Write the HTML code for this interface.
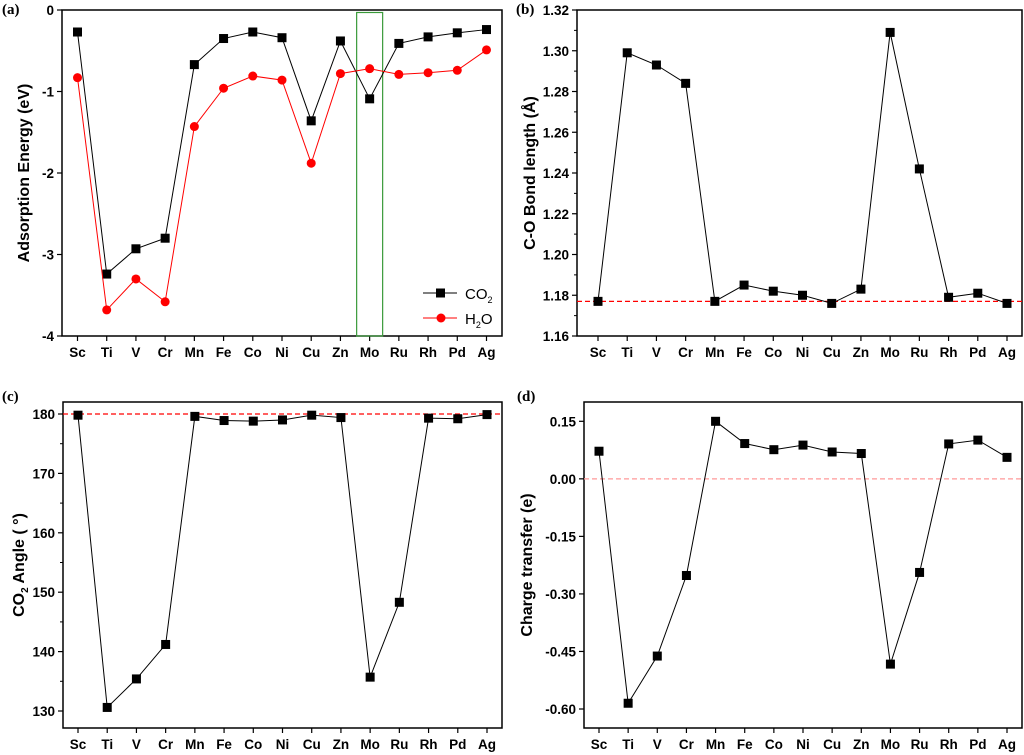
<!DOCTYPE html>
<html><head><meta charset="utf-8"><style>
html,body{margin:0;padding:0;background:#fff;}
svg{display:block;font-family:"Liberation Sans",Arial,sans-serif;}
.tk{font-size:13.5px;font-weight:bold;fill:#000;}
.ttl{font-size:16px;font-weight:bold;fill:#000;}
.pl{font-family:"Liberation Serif",serif;font-size:15px;font-weight:bold;}
</style></head><body>
<svg id="fig" width="1024" height="755" viewBox="0 0 1024 755" xmlns="http://www.w3.org/2000/svg"></svg>
<script>
const categories=["Sc","Ti","V","Cr","Mn","Fe","Co","Ni","Cu","Zn","Mo","Ru","Rh","Pd","Ag"];
const co2Energy=[-0.27,-3.24,-2.93,-2.80,-0.67,-0.35,-0.27,-0.34,-1.36,-0.38,-1.09,-0.41,-0.33,-0.28,-0.24];
const h2oEnergy=[-0.83,-3.68,-3.30,-3.58,-1.43,-0.96,-0.81,-0.86,-1.88,-0.78,-0.72,-0.79,-0.77,-0.74,-0.49];
const bondLength=[1.177,1.299,1.293,1.284,1.177,1.185,1.182,1.180,1.176,1.183,1.309,1.242,1.179,1.181,1.176];
const co2Angle=[179.8,130.6,135.4,141.2,179.6,178.9,178.8,179.0,179.8,179.4,135.7,148.3,179.3,179.2,179.9];
const chargeTransfer=[0.072,-0.585,-0.462,-0.252,0.150,0.092,0.076,0.088,0.070,0.066,-0.483,-0.244,0.091,0.101,0.056];
const ticksA=[0,-1,-2,-3,-4];
const ticksB=[1.16,1.18,1.20,1.22,1.24,1.26,1.28,1.30,1.32];
const ticksC=[130,140,150,160,170,180];
const ticksD=[0.15,0.00,-0.15,-0.30,-0.45,-0.60];

const NS="http://www.w3.org/2000/svg";
const svg=document.getElementById('fig');
function mk(tag,attrs,parent,text){const e=document.createElementNS(NS,tag);for(const k in attrs)e.setAttribute(k,attrs[k]);if(text!==undefined)e.textContent=text;(parent||svg).appendChild(e);return e;}

function panel(o){
  const g=mk('g',{});
  
  
  const y=v=>o.py0+(v-o.v0)/(o.v1-o.v0)*(o.py1-o.py0);
  const x=i=>o.cx0+i*(o.cx1-o.cx0)/(categories.length-1);
  const fr=mk('rect',{x:o.L,y:o.T,width:o.R-o.L,height:o.B-o.T,fill:'none',stroke:'#000','stroke-width':1.5},g);
  
  
  o.ticks.forEach(t=>{
    mk('line',{x1:o.L-5,x2:o.L,y1:y(t),y2:y(t),stroke:'#000','stroke-width':1.2},g);
    const lb=mk('text',{x:o.L-8,y:y(t)+5,'text-anchor':'end',class:'tk'},g,o.fmt(t));
    
    
  });
  if(o.minor){o.minor.forEach(t=>mk('line',{x1:o.L-3,x2:o.L,y1:y(t),y2:y(t),stroke:'#000','stroke-width':1},g));}
  categories.forEach((c,i)=>{
    mk('line',{x1:x(i),x2:x(i),y1:o.B,y2:o.B+5,stroke:'#000','stroke-width':1.2},g);
    const lb=mk('text',{x:x(i),y:o.B+21,'text-anchor':'middle',class:'tk'},g,c);
    
    
  });
  const cy=(o.T+o.B)/2;
  const tt=mk('text',{x:0,y:0,'text-anchor':'middle',class:'ttl',transform:`translate(${o.titleX},${cy}) rotate(-90)`},g);
  tt.innerHTML=o.title;
  
  
  const pl=mk('text',{x:o.labX,y:o.labY,class:'pl'},g,o.label);
  
  
  if(o.ref!==undefined){
    const rl=mk('line',{x1:o.L,x2:o.R,y1:y(o.ref),y2:y(o.ref),stroke:o.refColor,'stroke-width':1.2,'stroke-dasharray':'5,3'},g);
    
    
  }
  if(o.extra)o.extra(g,x,y);
  o.series.forEach(s=>{
    const line=mk('polyline',{points:s.data.map((v,i)=>x(i)+','+y(v)).join(' '),fill:'none',stroke:s.color,'stroke-width':1},g);
    
    
    s.data.forEach((v,i)=>{
      let m;
      if(s.circle) m=mk('circle',{cx:x(i),cy:y(v),r:4.5,fill:s.color},g);
      else m=mk('rect',{x:x(i)-4.5,y:y(v)-4.5,width:9,height:9,fill:s.color},g);
      
      
    });
  });
  return g;
}

panel({name:'panel-a-adsorption-energy',L:62,R:502,T:10,B:336,v0:0,v1:-4,py0:10,py1:336,cx0:77.5,cx1:486.5,
  ticks:ticksA,fmt:t=>String(t),title:'Adsorption Energy (eV)',titleX:29,label:'(a)',labX:2,labY:14,
  series:[{name:'co2',data:co2Energy,color:'#000'},{name:'h2o',data:h2oEnergy,color:'#f00',circle:true}],
  extra:(g,x,y)=>{
    const r=mk('rect',{x:x(10)-13,y:12.5,width:26,height:323.5,fill:'none',stroke:'#3a9a3a','stroke-width':1.2},g);
    
    
    const lg=mk('g',{},g);
    
    
    mk('line',{x1:423,x2:457,y1:293,y2:293,stroke:'#000'},lg);
    mk('rect',{x:436,y:288.5,width:9,height:9,fill:'#000'},lg);
    const t1=mk('text',{x:465,y:299,style:'font-size:15px'},lg);t1.innerHTML='CO<tspan dy="4" font-size="9">2</tspan>';
    
    
    mk('line',{x1:423,x2:457,y1:318,y2:318,stroke:'#f00'},lg);
    mk('circle',{cx:441,cy:318,r:4.5,fill:'#f00'},lg);
    const t2=mk('text',{x:465,y:324,style:'font-size:15px'},lg);t2.innerHTML='H<tspan dy="4" font-size="9">2</tspan><tspan dy="-4">O</tspan>';
    
    
  }});

panel({name:'panel-b-bond-length',L:577,R:1022,T:10,B:336,v0:1.32,v1:1.16,py0:10,py1:336,cx0:598,cx1:1007,
  ticks:ticksB,minor:[1.17,1.19,1.21,1.23,1.25,1.27,1.29,1.31],fmt:t=>t.toFixed(2),title:'C-O Bond length (Å)',titleX:535,label:'(b)',labX:516,labY:14,
  ref:1.177,refColor:'#f00',series:[{name:'bond-length',data:bondLength,color:'#000'}]});

panel({name:'panel-c-co2-angle',L:63,R:502,T:402,B:728,v0:180,v1:130,py0:414,py1:711,cx0:78,cx1:487,
  ticks:ticksC,minor:[135,145,155,165,175],fmt:t=>String(t),title:'CO<tspan dy="4" font-size="10">2</tspan><tspan dy="-4"> Angle ( °)</tspan>',titleX:24,label:'(c)',labX:2,labY:401,
  ref:180,refColor:'#f00',series:[{name:'co2-angle',data:co2Angle,color:'#000'}]});

panel({name:'panel-d-charge-transfer',L:584,R:1022,T:402,B:728,v0:0.15,v1:-0.60,py0:421.3,py1:709,cx0:599,cx1:1007,
  ticks:ticksD,fmt:t=>t.toFixed(2),title:'Charge transfer (e)',titleX:532,label:'(d)',labX:517,labY:401,
  ref:0,refColor:'#f99',series:[{name:'charge-transfer',data:chargeTransfer,color:'#000'}]});
</script>
</body></html>
